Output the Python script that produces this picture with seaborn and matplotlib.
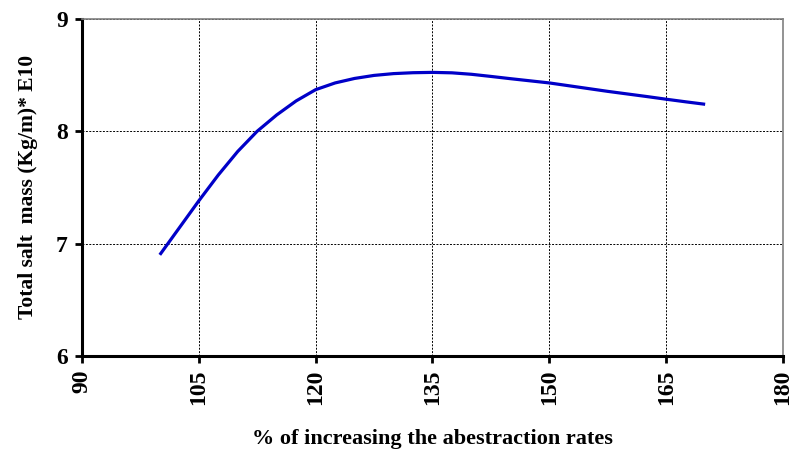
import matplotlib
matplotlib.use("Agg")
import matplotlib.pyplot as plt
import seaborn as sns
import pandas as pd

rates = [100, 102.5, 105, 107.5, 110, 112.5, 115, 117.5, 120, 122.5, 125, 127.5, 130,
         132.5, 135, 137.5, 140, 142.5, 145, 147.5, 150, 152.5, 155, 157.5, 160, 162.5,
         165, 167.5, 170]
salt_mass = [6.90, 7.14, 7.38, 7.61, 7.82, 8.00, 8.145, 8.27, 8.37, 8.43, 8.47, 8.497, 8.513,
             8.521, 8.524, 8.52, 8.507, 8.488, 8.468, 8.449, 8.43, 8.405, 8.38, 8.355, 8.332,
             8.309, 8.285, 8.262, 8.24]
x_ticks = [90, 105, 120, 135, 150, 165, 180]
y_ticks = [6, 7, 8, 9]

sns.set_style("white")
plt.rcParams['font.family'] = ['Liberation Serif', 'DejaVu Serif']
plt.rcParams['font.weight'] = 'bold'

df = pd.DataFrame({"rate": rates, "mass": salt_mass})

fig = plt.figure(figsize=(7.95, 4.5), dpi=100)
ax = fig.add_axes([0.103, 0.209, 0.882, 0.749])
sns.lineplot(data=df, x="rate", y="mass", ax=ax, color="#0000C8", linewidth=2.3)
ax.lines[0].set_solid_joinstyle('round')
ax.lines[0].set_solid_capstyle('butt')

ax.set_xlim(90, 180)
ax.set_ylim(6, 9)
ax.set_xticks(x_ticks)
ax.set_yticks(y_ticks)
ax.set_xticklabels([str(t) for t in x_ticks], rotation=90, fontsize=17, fontweight='bold', color='black')
ax.set_yticklabels([str(t) for t in y_ticks], fontsize=17, fontweight='bold', color='black')
ax.grid(True, color='black', linestyle=(0, (2, 1.5)), linewidth=0.7)
ax.set_axisbelow(True)

for s in ['left', 'bottom']:
    ax.spines[s].set_color('black')
    ax.spines[s].set_linewidth(2.2)
for s in ['top', 'right']:
    ax.spines[s].set_color('#808080')
    ax.spines[s].set_linewidth(1.2)

ax.tick_params(axis='both', which='major', direction='out', length=5, width=2, color='black',
               bottom=True, left=True, pad=5)

ax.set_xlabel("% of increasing the abestraction rates", fontsize=16, fontweight='bold',
              labelpad=17, color='black')
ax.set_ylabel("Total salt  mass (Kg/m)* E10", fontsize=15.5, fontweight='bold',
              labelpad=13, color='black')

fig.savefig("out.png", dpi=100)
